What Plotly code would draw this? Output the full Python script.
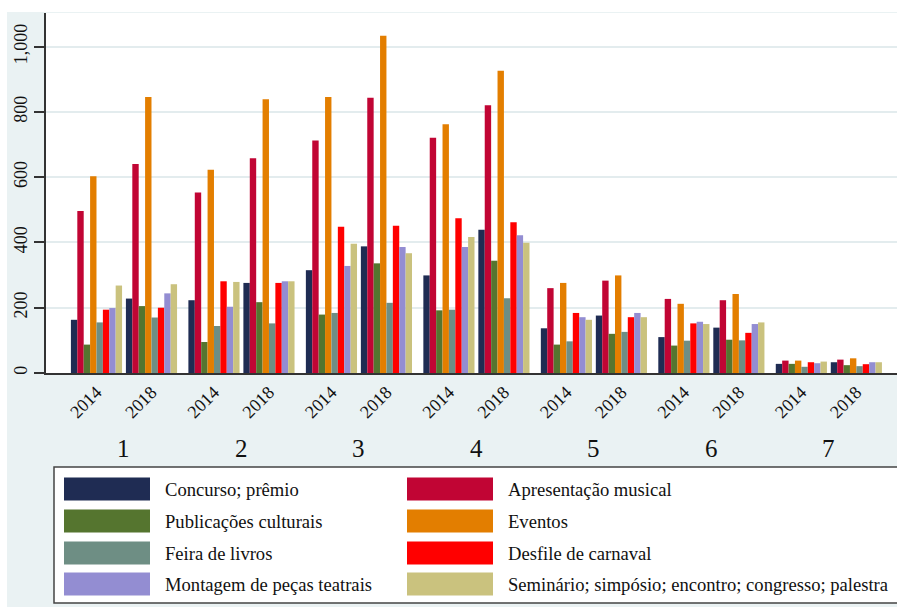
import plotly.graph_objects as go

# Municipal cultural activities by group, 2014 vs 2018
groups = ["1", "2", "3", "4", "5", "6", "7"]
years = ["2014", "2018"]

series_names = [
    "Concurso; prêmio",
    "Apresentação musical",
    "Publicações culturais",
    "Eventos",
    "Feira de livros",
    "Desfile de carnaval",
    "Montagem de peças teatrais",
    "Seminário; simpósio; encontro; congresso; palestra",
]
series_colors = [
    "#1F2C53", "#C10534", "#55752F", "#E37E00",
    "#6E8E84", "#FF0000", "#938DD2", "#CAC27E",
]

# values ordered: group 1 (2014, 2018), group 2 (2014, 2018), ...
concurso = [163, 228, 223, 276, 315, 388, 299, 439, 137, 176, 110, 139, 28, 33]
apresentacao = [496, 640, 553, 658, 712, 843, 721, 820, 260, 283, 227, 223, 38, 41]
publicacoes = [87, 205, 95, 217, 179, 336, 192, 344, 87, 120, 84, 102, 28, 24]
eventos = [603, 846, 623, 839, 846, 1033, 762, 926, 276, 299, 212, 242, 38, 45]
feira = [155, 170, 144, 152, 184, 215, 194, 229, 97, 126, 99, 100, 19, 21]
desfile = [194, 200, 281, 276, 448, 451, 474, 462, 184, 171, 152, 123, 33, 27]
montagem = [199, 244, 203, 281, 328, 386, 386, 422, 171, 184, 157, 150, 30, 33]
seminario = [268, 272, 279, 281, 396, 367, 417, 399, 163, 171, 150, 155, 35, 33]

series_values = [concurso, apresentacao, publicacoes, eventos,
                 feira, desfile, montagem, seminario]

# layout geometry (pixels)
W, H = 897, 612
ML, MR, MT, MB = 46, 0, 13, 239
PW, PH = W - ML - MR, H - MT - MB
GROUP_STEP = 2.136  # distance between groups, in year-slot units

xpos = [g * GROUP_STEP + s for g in range(len(groups)) for s in range(len(years))]
xticktext = [y for _ in groups for y in years]

SERIF = "Liberation Serif, Times New Roman, serif"
BG = "#EAF2F3"
GRID = "#E3ECEE"


def px_x(p):
    return (p - ML) / PW


def px_y(p):
    return (H - MB - p) / PH


fig = go.Figure()
for name, color, vals in zip(series_names, series_colors, series_values):
    fig.add_trace(go.Bar(
        x=xpos, y=vals, name=name,
        marker=dict(color=color, line=dict(width=0)),
        showlegend=False,
    ))

shapes = []
# graph region background and white plot region
shapes.append(dict(type="rect", xref="paper", yref="paper", layer="below",
                   x0=px_x(7), x1=px_x(W + 5), y0=px_y(607), y1=px_y(12),
                   fillcolor=BG, line=dict(width=0)))
shapes.append(dict(type="rect", xref="paper", yref="paper", layer="below",
                   x0=0, x1=1, y0=0, y1=1,
                   fillcolor="white", line=dict(width=0)))

annotations = []
# group labels under the year ticks
for g, lab in enumerate(groups):
    annotations.append(dict(
        x=g * GROUP_STEP + 0.5, y=px_y(449), xref="x", yref="paper",
        text=lab, showarrow=False, font=dict(family=SERIF, size=25, color="#111"),
        xanchor="center", yanchor="middle"))

# legend box with two columns of swatches
shapes.append(dict(type="rect", xref="paper", yref="paper",
                   x0=px_x(54), x1=px_x(W + 5), y0=px_y(603), y1=px_y(467),
                   fillcolor="white", line=dict(color="#444", width=1.5)))
row_y = [489, 521, 553, 584]
col_x = [(64, 150, 163), (407, 493, 506)]
for i, (name, color) in enumerate(zip(series_names, series_colors)):
    row, col = divmod(i, 2)
    sx0, sx1, tx = col_x[col]
    cy = row_y[row]
    shapes.append(dict(type="rect", xref="paper", yref="paper",
                       x0=px_x(sx0), x1=px_x(sx1), y0=px_y(cy + 11.5), y1=px_y(cy - 11.5),
                       fillcolor=color, line=dict(width=0)))
    annotations.append(dict(
        x=px_x(tx), y=px_y(cy), xref="paper", yref="paper", text=name,
        showarrow=False, xanchor="left", yanchor="middle",
        font=dict(family=SERIF, size=18.6, color="#111")))

fig.update_layout(
    width=W, height=H,
    margin=dict(l=ML, r=MR, t=MT, b=MB, pad=0),
    paper_bgcolor="white", plot_bgcolor="rgba(0,0,0,0)",
    barmode="group", bargap=0.07, bargroupgap=0,
    shapes=shapes, annotations=annotations,
    showlegend=False,
)
fig.update_xaxes(
    range=[-0.918, 14.555], tickmode="array", tickvals=xpos, ticktext=xticktext,
    tickangle=-45, ticks="", showgrid=False, zeroline=False,
    showline=True, linecolor="#333", linewidth=1.5,
    tickfont=dict(family=SERIF, size=18, color="#111"),
)
fig.update_yaxes(
    range=[0, 1103], tickmode="array", tickvals=[0, 200, 400, 600, 800, 1000],
    tickformat=",d", tickangle=-90, ticks="outside", ticklen=10,
    tickcolor="#333", tickwidth=1.5,
    showgrid=True, gridcolor=GRID, gridwidth=2, zeroline=False,
    showline=True, linecolor="#333", linewidth=1.5,
    tickfont=dict(family=SERIF, size=18, color="#111"),
)

fig.write_html("out.html")
